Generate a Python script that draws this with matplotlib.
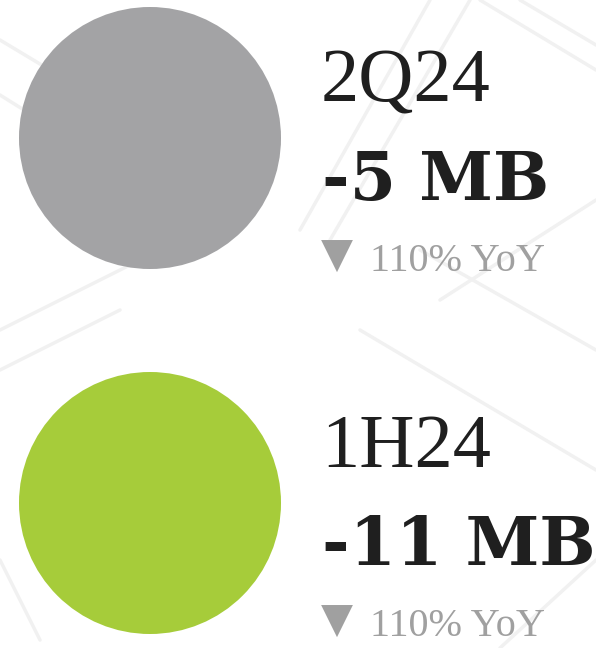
import matplotlib
matplotlib.use("Agg")
import matplotlib.pyplot as plt
from matplotlib.patches import Circle

# data
periods = ["2Q24", "1H24"]
values_mb = [-5, -11]
yoy_pct = [110, 110]
colors = ["#a3a3a5", "#a6cc3a"]

W, H = 596, 648
fig = plt.figure(figsize=(W / 100, H / 100), dpi=100)
ax = fig.add_axes([0, 0, 1, 1])
ax.set_xlim(0, W)
ax.set_ylim(H, 0)
ax.set_aspect("equal")
ax.axis("off")
fig.patch.set_facecolor("white")

# faint decorative background lines
deco = [((0, 40), (200, 160)), ((0, 95), (120, 170)), ((300, 230), (430, 0)),
        ((330, 240), (470, 0)), ((480, 0), (596, 70)), ((520, 0), (596, 45)),
        ((0, 330), (180, 240)), ((0, 370), (120, 310)), ((360, 330), (596, 470)),
        ((420, 250), (596, 350)), ((0, 560), (40, 640)), ((500, 648), (596, 560)),
        ((440, 300), (596, 200))]
for (x0, y0), (x1, y1) in deco:
    ax.plot([x0, x1], [y0, y1], color="#f1f1f1", lw=2.5, solid_capstyle="round", zorder=0)

serif = ["Liberation Serif", "DejaVu Serif"]
row_y = [138, 503]
for i, (p, v, y, c) in enumerate(zip(periods, values_mb, yoy_pct, colors)):
    cy = row_y[i]
    ax.add_patch(Circle((150, cy), 131, facecolor=c, edgecolor="none", zorder=2))
    ax.text(321, cy - 36, p, fontsize=55, family=serif, color="#1f1f1f",
            ha="left", va="baseline", zorder=3)
    ax.text(322, cy + 62, f"{v} MB", fontsize=48, family=["DejaVu Serif"], weight="bold",
            color="#1f1f1f", ha="left", va="baseline", zorder=3)
    ax.text(321, cy + 130, "▼", fontsize=30, family=["DejaVu Sans"], color="#a0a0a0",
            ha="left", va="baseline", zorder=3)
    ax.text(370, cy + 133, f"{y}% YoY", fontsize=29, family=serif, color="#a0a0a0",
            ha="left", va="baseline", zorder=3)

fig.savefig("out.png", dpi=100, facecolor="white")
